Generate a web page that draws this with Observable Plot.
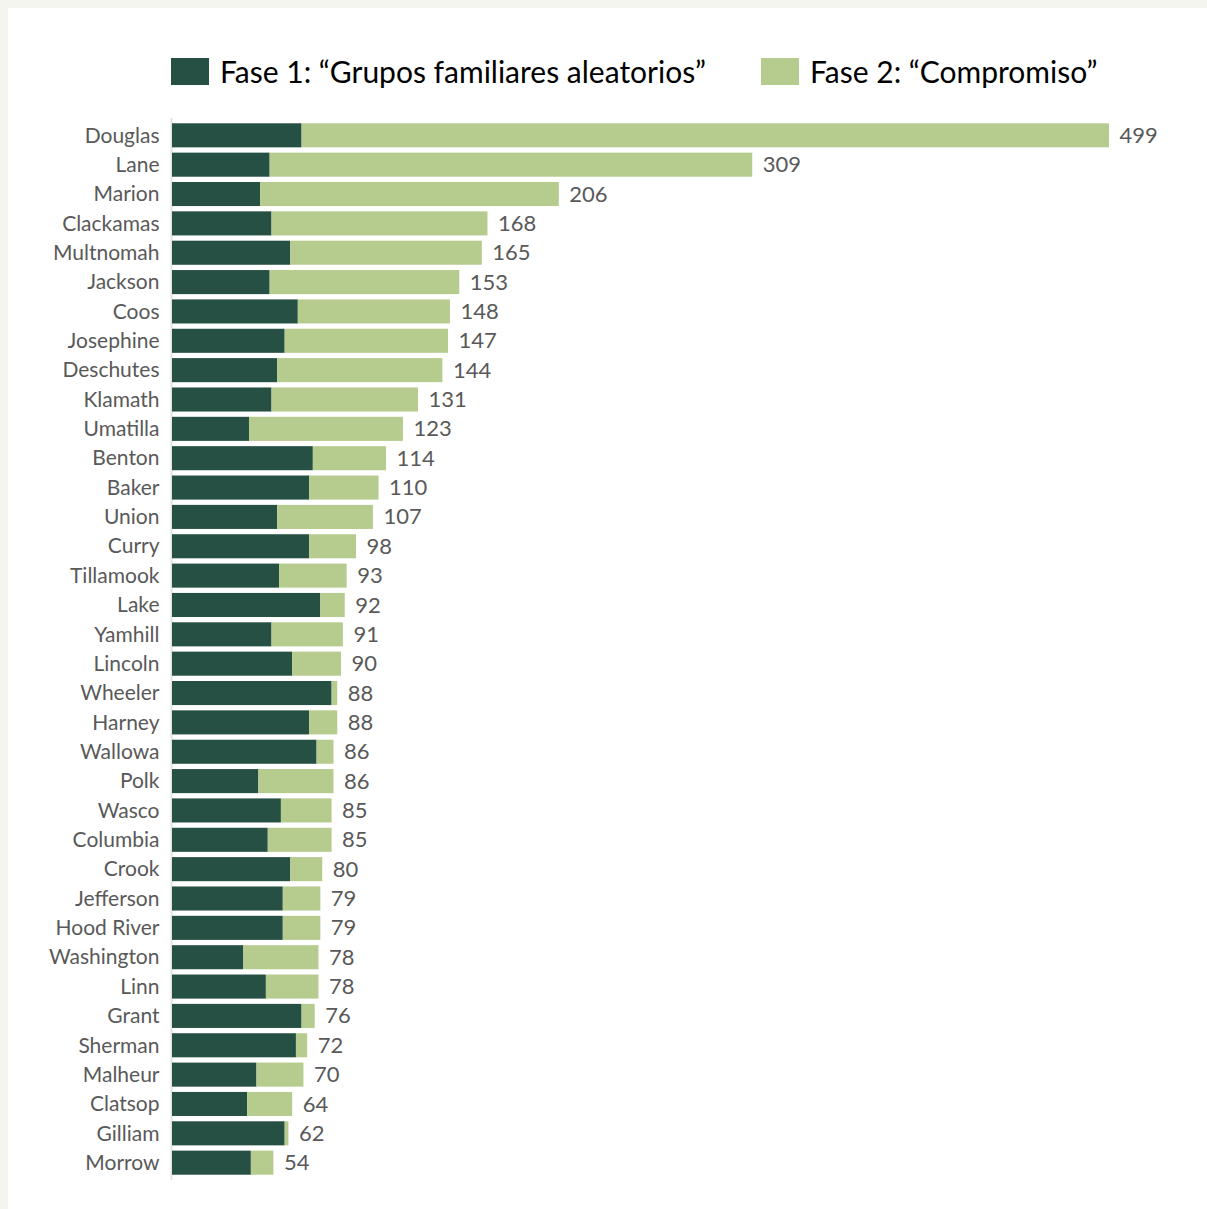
<!DOCTYPE html>
<html>
<head>
<meta charset="utf-8">
<script src="https://cdn.jsdelivr.net/npm/d3@7"></script>
<script src="https://cdn.jsdelivr.net/npm/@observablehq/plot@0.6"></script>
<style>
  html, body { margin: 0; padding: 0; background: #f4f5ee; }
  #panel { position: absolute; left: 8px; top: 8px; width: 1199px; height: 1201px; background: #ffffff; overflow: hidden; }
  .legend-item { position: absolute; top: 50px; height: 27px; display: flex; align-items: center; font-family: Lato, "Open Sans", sans-serif; font-size: 30px; line-height: 27px; color: #000; white-space: nowrap; }
  .sw { width: 38px; height: 27px; margin-right: 11px; flex: none; }
  #chart { position: absolute; left: 0; top: 92px; }
</style>
</head>
<body>
<div id="panel">
  <div class="legend-item" id="leg1" style="left:163px;"><span class="sw" id="sw1"></span><span id="lt1"></span></div>
  <div class="legend-item" id="leg2" style="left:753px;"><span class="sw" id="sw2"></span><span id="lt2"></span></div>
  <div id="chart"></div>
</div>
<script>
const counties = ["Douglas","Lane","Marion","Clackamas","Multnomah","Jackson","Coos","Josephine","Deschutes","Klamath","Umatilla","Benton","Baker","Union","Curry","Tillamook","Lake","Yamhill","Lincoln","Wheeler","Harney","Wallowa","Polk","Wasco","Columbia","Crook","Jefferson","Hood River","Washington","Linn","Grant","Sherman","Malheur","Clatsop","Gilliam","Morrow"];
const phase1 = [69,52,47,53,63,52,67,60,56,53,41,75,73,56,73,57,79,53,64,85,73,77,46,58,51,63,59,59,38,50,69,66,45,40,60,42];
const phase2 = [430,257,159,115,102,101,81,87,88,78,82,39,37,51,25,36,13,38,26,3,15,9,40,27,34,17,20,20,40,28,7,6,25,24,2,12];
const seriesNames = ["Fase 1: “Grupos familiares aleatorios”", "Fase 2: “Compromiso”"];
const seriesColors = ["#265043", "#b6cb8e"];

document.getElementById("sw1").style.background = seriesColors[0];
document.getElementById("sw2").style.background = seriesColors[1];
document.getElementById("lt1").textContent = seriesNames[0];
document.getElementById("lt2").textContent = seriesNames[1];

const rows = [];
counties.forEach((c, i) => {
  rows.push({county: c, phase: seriesNames[0], value: phase1[i], order: 0});
  rows.push({county: c, phase: seriesNames[1], value: phase2[i], order: 1});
});
const totals = counties.map((c, i) => ({county: c, total: phase1[i] + phase2[i]}));

const chart = Plot.plot({
  width: 1199,
  height: 1100,
  marginLeft: 164,
  marginRight: 98,
  marginTop: 18,
  marginBottom: 20,
  style: { fontFamily: "Lato, 'Open Sans', sans-serif", background: "transparent", overflow: "visible" },
  x: { domain: [0, 499], axis: null },
  y: { domain: counties, padding: 0.18, round: false, label: null },
  color: { domain: seriesNames, range: seriesColors },
  marks: [
    Plot.ruleX([0], { stroke: "#e3e3e3", strokeWidth: 2, dx: -1 }),
    Plot.barX(rows, Plot.stackX({ x: "value", y: "county", fill: "phase", order: "order" })),
    Plot.text(totals, { x: "total", y: "county", text: d => String(d.total), textAnchor: "start", dx: 10, fontSize: 22, fill: "#595959" }),
    Plot.axisY({ tickSize: 0, tickPadding: 13, fontSize: 21, fill: "#595959", label: null })
  ]
});
document.getElementById("chart").appendChild(chart);
</script>
</body>
</html>
